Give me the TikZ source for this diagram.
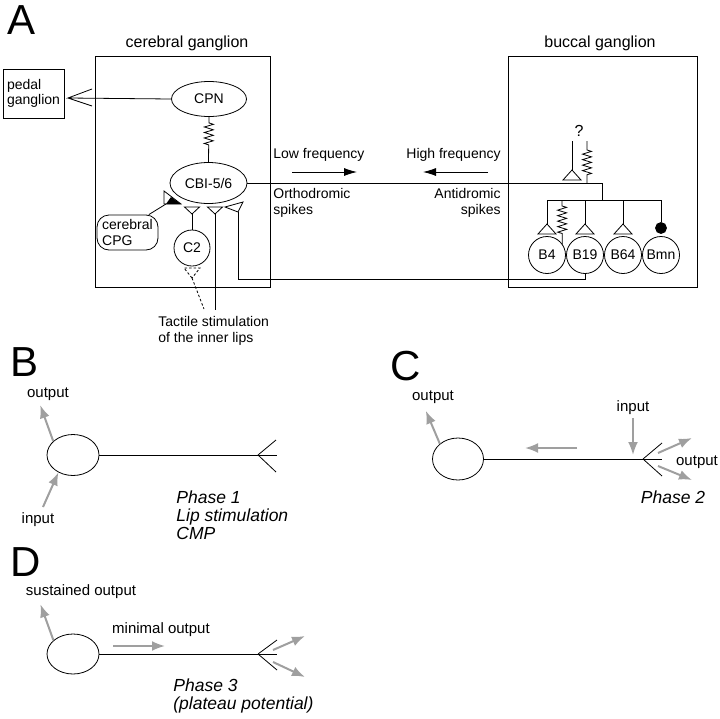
\documentclass[tikz,border=0pt]{standalone}
\usepackage{fontspec}
\setmainfont{Liberation Sans}
\usetikzlibrary{shapes.geometric, arrows.meta, decorations.pathmorphing}

\tikzset{
  uptri/.pic={\draw (0,0) -- (-9,10) -- (9,10) -- cycle;},
  dntri/.pic={\draw (0,0) -- (-7.5,-7) -- (7.5,-7) -- cycle;},
}

\begin{document}
\begin{tikzpicture}[x=1pt, y=-1pt, line width=0.8pt,
    txt/.style={font=\fontsize{14}{15.5}\selectfont, inner sep=0, align=left},
    big/.style={font=\fontsize{15}{17}\selectfont, inner sep=0},
    title/.style={font=\fontsize{16}{18}\selectfont, inner sep=0},
    phase/.style={font=\fontsize{17.5}{18}\selectfont\itshape, inner sep=0, align=left, anchor=west},
    panel/.style={font=\fontsize{42}{42}\selectfont, inner sep=0},
    soma/.style={draw, ellipse, minimum width=52, minimum height=41, inner sep=0},
    cell/.style={draw, circle, minimum size=37, inner sep=0, font=\fontsize{14}{16}\selectfont},
    spring/.style 2 args={decorate, decoration={zigzag, segment length=5.5, amplitude=4.5, pre length=#1, post length=#2}},
    garrow/.style={draw=gray!75, line width=2pt, -{Latex[length=13pt, width=10pt]}},
    barrow/.style={-{Latex[length=13pt, width=8pt]}}]
  \useasboundingbox (0,0) rectangle (720,718);

  % A: cerebral and buccal ganglia
  \node[panel] (pA) at (22,20) {A};
  \node[title] (cgname) at (187,43) {cerebral ganglion};
  \node[title] (bgname) at (600,43) {buccal ganglion};
  \node[draw, minimum width=175, minimum height=231] (cg) at (182.5,171.5) {};
  \node[draw, minimum width=189, minimum height=231] (bg) at (602.5,171.5) {};
  \node[draw, txt, minimum width=61, minimum height=49] (pedal) at (33.5,93.5) {pedal\\ganglion};

  \node[draw, ellipse, minimum width=75, minimum height=35, txt] (cpn) at (209,99) {CPN};
  \node[draw, ellipse, minimum width=77, minimum height=41, txt] (cbi) at (208.5,183) {CBI-5/6};
  \node[draw, rounded corners=12, minimum width=61, minimum height=35, txt] (cpg) at (127.5,232.5) {cerebral\\CPG};
  \node[cell, minimum size=36] (c2) at (192,248) {C2};

  \node[cell] (b4) at (547,255) {B4};
  \node[cell] (b19) at (585,255) {B19};
  \node[cell] (b64) at (623,255) {B64};
  \node[cell] (bmn) at (661,255) {Bmn};
  \node[draw, circle, fill, inner sep=0, minimum size=11] (bmndot) at (661,228) {};
  \node[title] (qmark) at (579,131) {?};

  \coordinate (pedtip) at (68,98);
  \coordinate (jct) at (602,183);
  \coordinate (busL) at (547,200);
  \coordinate (busM) at (602,200);
  \coordinate (busR) at (661,200);
  \coordinate (b4spr) at (562,200);
  \coordinate (ab4) at (547,224);
  \coordinate (ab19) at (585,224);
  \coordinate (ab64) at (623,224);
  \coordinate (qline) at (572,141);
  \coordinate (qsyn) at (572,170);
  \coordinate (qspr) at (587,141);
  \coordinate (tone) at (192,214);
  \coordinate (ttwo) at (215,214);
  \coordinate (tthree) at (238,212);
  \coordinate (cpgsyn) at (166,204);
  \coordinate (lips) at (215,310);
  \coordinate (dapex) at (192,278);
  \coordinate (dend) at (204,309);

  % Connections
  \draw (cpn.west) -- (pedtip) -- ++(24,-9) (pedtip) -- ++(24,8);
  \draw[spring={6}{15}] (cpn.south) -- (cbi.north);
  \draw (cbi.east) -- (jct) -- (busM);
  \draw (busL) -- (busR);
  \draw (busL) -- (ab4) (busM -| ab19) -- (ab19) (busM -| ab64) -- (ab64) (busR) -- (bmndot);
  \pic at (ab4) {uptri};
  \pic at (ab19) {uptri};
  \pic at (ab64) {uptri};
  \draw[spring={6}{8}] (b4spr) -- (b4.36);
  \draw (qline) -- (qsyn);
  \pic at (qsyn) {uptri};
  \draw[spring={9}{8}] (qspr) -- (qspr |- jct);

  \draw (b19.south) -- ++(0,5) -| (tthree);
  \draw (tthree) -- (225,207) -- (243,202) -- cycle;
  \pic at (tone) {dntri};
  \draw (tone) -- (c2.north);
  \pic at (ttwo) {dntri};
  \draw (ttwo) -- (lips);
  \draw[dash pattern=on 2.5pt off 2pt] (dapex) -- ++(-8,-10) -- ++(16,0) -- cycle;
  \draw[dash pattern=on 2.5pt off 2pt] (dapex) -- (dend);
  \draw (cpg.40) -- (cpgsyn);
  \draw (164,191) -- (164,204) -- (181,204) -- cycle;
  \fill (171,197) -- (181,204) -- (166,204) -- cycle;

  \node[txt, anchor=west] (lowf) at (273,155) {Low frequency};
  \node[txt, anchor=north west] (ortho) at (273,188) {Orthodromic\\spikes};
  \node[txt, anchor=east] (highf) at (501,155) {High frequency};
  \node[txt, align=right, anchor=north east] (anti) at (501,188) {Antidromic\\spikes};
  \coordinate (lowS) at (292,172);
  \coordinate (lowE) at (357,172);
  \coordinate (highS) at (488,172);
  \coordinate (highE) at (423,172);
  \draw[barrow] (lowS) -- (lowE);
  \draw[barrow] (highS) -- (highE);
  \node[txt, anchor=north west] (tact) at (158,316) {Tactile stimulation\\of the inner lips};

  % B
  \node[panel] (pB) at (25,362) {B};
  \node[soma] (bsoma) at (73,455) {};
  \coordinate (bfork) at (258,455);
  \coordinate (bend) at (277,455);
  \coordinate (binS) at (43,507);
  \draw (bsoma.east) -- (bend);
  \draw (bfork) -- ++(18,-15) (bfork) -- ++(18,17);
  \node[big] (bout) at (48,394) {output};
  \node[big] (bin) at (38,520) {input};
  \draw[garrow] (bsoma.145) -- ++(-13,-36);
  \draw[garrow] (binS) -- (bsoma.230);
  \node[phase] (ph1) at (176,515) {Phase 1\\Lip stimulation\\CMP};

  % C
  \node[panel] (pC) at (406,366) {C};
  \node[soma, minimum width=51, minimum height=42] (csoma) at (458,459) {};
  \coordinate (cfork) at (643,459);
  \coordinate (cend) at (662,459);
  \coordinate (cmidS) at (577,448);
  \coordinate (cmidE) at (525,448);
  \coordinate (cinS) at (633,418);
  \coordinate (cinE) at (633,455);
  \coordinate (coutS) at (658,453);
  \coordinate (coutE) at (692,438);
  \coordinate (coutS2) at (658,466);
  \coordinate (coutE2) at (692,480);
  \draw (csoma.east) -- (cend);
  \draw (cfork) -- ++(19,-16) (cfork) -- ++(19,17);
  \node[big] (cout) at (433,397) {output};
  \node[big] (cin) at (633,408) {input};
  \node[big] (cout2) at (697,462) {output};
  \draw[garrow] (csoma.140) -- ++(-14,-33);
  \draw[garrow] (cmidS) -- (cmidE);
  \draw[garrow] (cinS) -- (cinE);
  \draw[garrow] (coutS) -- (coutE);
  \draw[garrow] (coutS2) -- (coutE2);
  \node[phase, anchor=center] (ph2) at (673,497) {Phase 2};

  % D
  \node[panel] (pD) at (26,562) {D};
  \node[soma, minimum height=40] (dsoma) at (73,654) {};
  \coordinate (dfork) at (258,654);
  \coordinate (dend2) at (277,654);
  \coordinate (dmidS) at (113,646);
  \coordinate (dmidE) at (165,646);
  \coordinate (doutS) at (273,650);
  \coordinate (doutE) at (305,636);
  \coordinate (doutS2) at (273,662);
  \coordinate (doutE2) at (305,677);
  \draw (dsoma.east) -- (dend2);
  \draw (dfork) -- ++(19,-14) (dfork) -- ++(19,16);
  \node[big] (dsust) at (81,592) {sustained output};
  \node[big] (dmin) at (161,630) {minimal output};
  \draw[garrow] (dsoma.145) -- ++(-13,-36);
  \draw[garrow] (dmidS) -- (dmidE);
  \draw[garrow] (doutS) -- (doutE);
  \draw[garrow] (doutS2) -- (doutE2);
  \node[phase] (ph3) at (173,695.5) {Phase 3\\(plateau potential)};
\end{tikzpicture}
\end{document}
